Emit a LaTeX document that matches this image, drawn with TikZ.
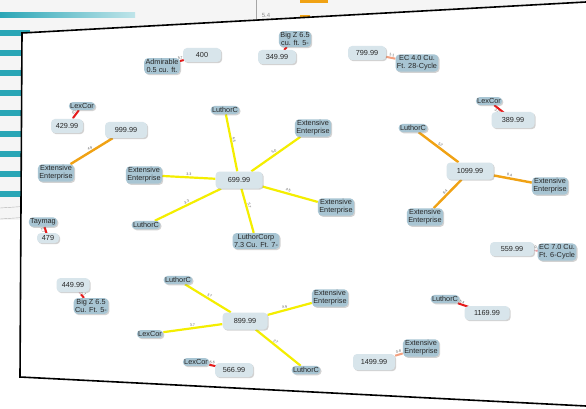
\documentclass[tikz,border=0pt]{standalone}
\usepackage{fontspec}
\setmainfont{Liberation Sans}
\usetikzlibrary{calc,shadows,backgrounds}

\definecolor{pricefill}{HTML}{D8E5EB}
\definecolor{namefill}{HTML}{A8C5D3}
\definecolor{linkyellow}{HTML}{F4EE00}
\definecolor{linkorange}{HTML}{F0A214}
\definecolor{linkred}{HTML}{E61A1A}
\definecolor{linkpink}{HTML}{E4B6BE}
\definecolor{linksalmon}{HTML}{F2A080}
\definecolor{barteal}{HTML}{2AA6B6}

\begin{document}
\begin{tikzpicture}[
    x = 1pt, y = -1pt, % pixel grid of the screenshot
    font = \fontsize{7.3}{7.8}\selectfont,
    every node/.style = {text = black!85}
    ]

    \tikzset{
    pricebox/.style = {fill = pricefill, rounded corners = 4pt,
        minimum width = 38pt, minimum height = 14pt, inner sep = 1pt,
        drop shadow = {shadow xshift = 1.2pt, shadow yshift = -1.2pt, opacity = .35}},
    hubbox/.style = {pricebox, minimum width = 47pt, minimum height = 17pt},
    namebox/.style = {fill = namefill, rounded corners = 4pt, inner sep = 1.4pt,
        align = center,
        drop shadow = {shadow xshift = 1.2pt, shadow yshift = -1.2pt, opacity = .35}},
    yellowlink/.style = {draw = linkyellow, line width = 2.2pt},
    orangelink/.style = {draw = linkorange, line width = 2.4pt},
    redlink/.style = {draw = linkred, line width = 2pt},
    pinklink/.style = {draw = linkpink, line width = 1.4pt},
    salmonlink/.style = {draw = linksalmon, line width = 2pt},
    weight/.style = {font = \fontsize{3.6}{4}\selectfont, text = black!65,
        sloped, above, inner sep = .8pt}
    }

    \useasboundingbox (0,0) rectangle (586,409);

    % screen behind the panel
    \begin{scope}[on background layer]
    \fill[black!4] (0,0) rectangle (586,409);
    \fill[white] (0,220) rectangle (586,409);
    \shade[left color = barteal, right color = barteal!30] (0,13) rectangle (135,18);
    \foreach \y in {30,50,70,90,110,131,151,171,191}
        \fill[barteal] (0,\y) rectangle (30,\y+6);
    \draw[black!30] (0,208) -- (30,206);
    \draw[black!30] (0,219) -- (30,217);
    \draw[black!35] (256,0) -- (256,22);
    \fill[linkorange] (300,0) rectangle (328,3);
    \fill[linkorange] (300,15) rectangle (310,19);
    \node[text = black!45, font = \fontsize{6}{6}\selectfont] (tick) at (266,15) {5.4};
    % the white panel
    \fill[white] (22,33) -- (586,2) -- (586,406) -- (20,377) -- cycle;
    \draw[line width = 1.6pt] (586,2) -- (22,33) -- (20,377) -- (586,406);
    \end{scope}

    % top row
    \node[pricebox] (p400) at (202,55) {400};
    \node[namebox] (adm) at (162,66) {Admirable\\0.5 cu. ft.};
    \node[namebox] (bigz) at (295,39) {Big Z 6.5\\cu. ft. 5-};
    \node[pricebox] (p349) at (277,57) {349.99};
    \node[pricebox] (p799) at (367,53) {799.99};
    \node[namebox] (ecfour) at (417,63) {EC 4.0 Cu.\\Ft. 28-Cycle};
    \node[namebox] (lexa) at (489,101) {LexCor};
    \node[pricebox, minimum width = 43pt, minimum height = 16pt] (p389) at (513,120) {389.99};

    % left column
    \node[namebox] (lexb) at (82,106) {LexCor};
    \node[pricebox, minimum width = 32pt] (p429) at (67,126) {429.99};
    \node[pricebox, minimum width = 42pt, minimum height = 16pt] (p999) at (126,130) {999.99};
    \node[namebox] (exta) at (56,173) {Extensive\\Enterprise};
    \node[namebox] (tay) at (43,222) {Taymag};
    \node[pricebox, minimum width = 22pt, minimum height = 10pt] (p479) at (48,238) {479};

    % star around 699.99
    \node[hubbox] (p699) at (239,180) {699.99};
    \node[namebox] (luta) at (225,110) {LuthorC};
    \node[namebox] (extb) at (313,128) {Extensive\\Enterprise};
    \node[namebox] (extc) at (144,175) {Extensive\\Enterprise};
    \node[namebox] (lutb) at (146,225) {LuthorC};
    \node[namebox] (lcorp) at (256,241) {LuthorCorp\\7.3 Cu. Ft. 7-};
    \node[namebox] (extd) at (336,207) {Extensive\\Enterprise};

    % star around 1099.99
    \node[hubbox] (p1099) at (470,171) {1099.99};
    \node[namebox] (lutc) at (413,128) {LuthorC};
    \node[namebox] (exte) at (550,186) {Extensive\\Enterprise};
    \node[namebox] (extf) at (425,217) {Extensive\\Enterprise};
    \node[pricebox, minimum width = 44pt] (p559) at (512,249) {559.99};
    \node[namebox] (ecseven) at (557,252) {EC 7.0 Cu.\\Ft. 6-Cycle};

    % lower left
    \node[pricebox, minimum width = 33pt] (p449) at (73,285) {449.99};
    \node[namebox] (bigzb) at (91,306) {Big Z 6.5\\Cu. Ft. 5-};

    % star around 899.99
    \node[hubbox, minimum width = 45pt] (p899) at (245,321) {899.99};
    \node[namebox] (lutd) at (178,280) {LuthorC};
    \node[namebox] (extg) at (330,298) {Extensive\\Enterprise};
    \node[namebox] (lexc) at (150,334) {LexCor};
    \node[namebox] (lute) at (306,370) {LuthorC};
    \node[namebox] (lexd) at (196,362) {LexCor};
    \node[pricebox] (p566) at (234,370) {566.99};

    % lower right
    \node[namebox] (lutf) at (445,299) {LuthorC};
    \node[pricebox, minimum width = 45pt] (p1169) at (487,313) {1169.99};
    \node[namebox] (exth) at (421,348) {Extensive\\Enterprise};
    \node[pricebox, minimum width = 42pt, minimum height = 16pt] (p1499) at (374,362) {1499.99};

    % links, under the boxes
    \begin{scope}[on background layer]
    \path[yellowlink] (p699) -- node[weight, pos = .55]{4.5} (luta);
    \path[yellowlink] (p699) -- node[weight]{5.0} (extb);
    \path[yellowlink] (p699) -- node[weight]{3.3} (extc);
    \path[yellowlink] (p699) -- node[weight]{3.3} (lutb);
    \path[yellowlink] (p699) -- node[weight, pos = .4]{5.7} (lcorp);
    \path[yellowlink] (p699) -- node[weight, pos = .45]{4.5} (extd);

    \path[orangelink] (p1099) -- node[weight]{5.2} (lutc);
    \path[orangelink] (p1099) -- node[weight, pos = .4]{8.4} (exte);
    \path[orangelink] (p1099) -- node[weight]{8.4} (extf);
    \path[orangelink] (p999) -- node[weight]{4.9} (exta);

    \path[yellowlink] (p899) -- node[weight]{3.7} (lutd);
    \path[yellowlink] (p899) -- node[weight, pos = .4]{4.9} (extg);
    \path[yellowlink] (p899) -- node[weight]{3.7} (lexc);
    \path[yellowlink] (p899) -- node[weight, pos = .4]{2.7} (lute);

    \path[pinklink] (p400) -- node[weight, pos = .6]{5.7} (adm);
    \path[redlink] (adm) -- ($(adm)!.55!(p400)$);
    \path[pinklink] (p349) -- (bigz);
    \path[redlink] (bigz) -- ($(bigz)!.6!(p349)$);
    \path[salmonlink] (p799) -- node[weight, pos = .55]{1.1} (ecfour);
    \path[pinklink] (p389) -- node[weight, pos = .45, below]{3.0} (lexa);
    \path[redlink] (lexa) -- ($(lexa)!.7!(p389)$);
    \path[pinklink] (p429) -- node[weight, pos = .6]{0.7} (lexb);
    \path[redlink] (lexb) -- ($(lexb)!.6!(p429)$);
    \path[pinklink] (p479) -- node[weight, pos = .45, below]{2.7} (tay);
    \path[redlink] (tay) -- ($(tay)!.7!(p479)$);
    \path[pinklink] (p559) -- node[weight, pos = .6]{10.4} (ecseven);
    \path[redlink] (ecseven) -- ($(ecseven)!.45!(p559)$);
    \path[pinklink] (p449) -- node[weight, pos = .5]{1.7} (bigzb);
    \path[redlink] (bigzb) -- ($(bigzb)!.55!(p449)$);
    \path[pinklink] (p566) -- node[weight, pos = .55]{5.6} (lexd);
    \path[redlink] (lexd) -- ($(lexd)!.55!(p566)$);
    \path[pinklink] (p1169) -- node[weight, pos = .55]{5.4} (lutf);
    \path[redlink] (lutf) -- ($(lutf)!.6!(p1169)$);
    \path[salmonlink] (p1499) -- node[weight, pos = .55]{0.8} (exth);
    \end{scope}
\end{tikzpicture}
\end{document}
